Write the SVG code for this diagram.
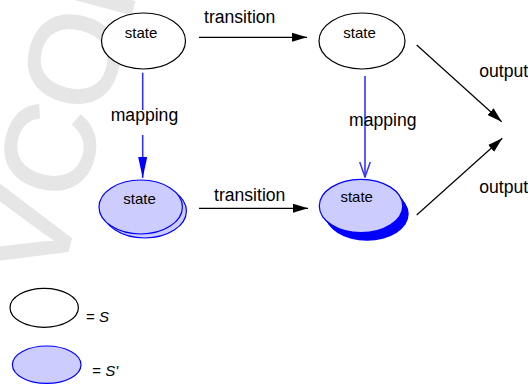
<svg xmlns="http://www.w3.org/2000/svg" width="528" height="384" viewBox="0 0 528 384">
<defs>
<style>
.lbl{font-family:"Liberation Sans",Arial,sans-serif;font-size:17.6px;fill:#000}
.st{font-family:"Liberation Sans",Arial,sans-serif;font-size:15px;fill:#000;text-anchor:middle}
.leg{font-family:"Liberation Sans",Arial,sans-serif;font-size:15px;fill:#000}
.s{fill:#fff;stroke:#000;stroke-width:1.2}
.sp{fill:#ccccff;stroke:#0000ff;stroke-width:1.2}
.blk{stroke:#000;stroke-width:1.2;fill:none}
.blu{stroke:#3333ff;stroke-width:1.6;fill:none}
.wm{font-family:"Liberation Sans",Arial,sans-serif;font-size:125px;fill:#e6e6e6;stroke:#e6e6e6;stroke-width:3}
</style>
<marker id="ab" viewBox="0 0 15 10" refX="15" refY="5" markerWidth="15" markerHeight="10" markerUnits="userSpaceOnUse" orient="auto"><path d="M0,0.5 L15,5 L0,9.5 z" fill="#000"/></marker>
<marker id="abf" viewBox="0 0 21 9" refX="21" refY="4.5" markerWidth="21" markerHeight="9" markerUnits="userSpaceOnUse" orient="auto"><path d="M0,0 L21,4.5 L0,9 z" fill="#0000ff"/></marker>
<marker id="abo" viewBox="0 0 16 12" refX="15" refY="6" markerWidth="16" markerHeight="12" markerUnits="userSpaceOnUse" orient="auto"><path d="M0,0.7 L15,6 L0,11.3" fill="none" stroke="#3333ff" stroke-width="1.5"/></marker>
</defs>
<rect width="528" height="384" fill="#fff"/>
<g id="watermark"><text class="wm" transform="translate(58,285) rotate(-75)">VCOP</text></g>
<g id="connectors">
<line class="blk" x1="199" y1="37.3" x2="307" y2="37.3" marker-end="url(#ab)"/>
<line class="blk" x1="199" y1="208.3" x2="308" y2="208.3" marker-end="url(#ab)"/>
<line class="blk" x1="416.7" y1="45" x2="501.7" y2="121.7" marker-end="url(#ab)"/>
<line class="blk" x1="416.7" y1="215" x2="502.3" y2="138.3" marker-end="url(#ab)"/>
<line class="blu" x1="142.7" y1="72.7" x2="142.7" y2="110"/>
<line class="blu" x1="142.7" y1="135" x2="142.7" y2="178" marker-end="url(#abf)"/>
<line class="blu" x1="365" y1="76" x2="365" y2="177" marker-end="url(#abo)"/>
<text class="lbl" x="204" y="23">transition</text>
<text class="lbl" x="214" y="201">transition</text>
<text class="lbl" x="110.7" y="121">mapping</text>
<text class="lbl" x="349" y="126">mapping</text>
<text class="lbl" x="479.3" y="76.7">output</text>
<text class="lbl" x="479.3" y="193.3">output</text>
</g>
<g id="s1"><ellipse class="s" cx="143.5" cy="41" rx="42" ry="28"/><text class="st" x="141" y="38">state</text></g>
<g id="s2"><ellipse class="s" cx="362" cy="41" rx="43" ry="28"/><text class="st" x="359.5" y="38">state</text></g>
<g id="sp1"><ellipse class="sp" cx="144.7" cy="211" rx="41.7" ry="27"/><ellipse class="sp" cx="140.7" cy="207" rx="41.7" ry="27"/><text class="st" x="139.5" y="204">state</text></g>
<g id="sp2">
<g fill="#0000ff"><ellipse cx="362" cy="207.3" rx="41.7" ry="26.7"/><ellipse cx="363" cy="208.6" rx="41.7" ry="26.7"/><ellipse cx="364" cy="210" rx="41.7" ry="26.7"/><ellipse cx="365" cy="211.3" rx="41.7" ry="26.7"/><ellipse cx="366" cy="212.6" rx="41.7" ry="26.7"/><ellipse cx="367" cy="214" rx="41.7" ry="26.7"/></g>
<ellipse class="sp" cx="361" cy="206" rx="41.7" ry="26.7"/><text class="st" x="356.7" y="201.7">state</text></g>
<g id="legend-s"><ellipse class="s" cx="44.2" cy="307.8" rx="34.2" ry="19.5"/><text class="leg" x="86" y="322">= <tspan font-style="italic">S</tspan></text></g>
<g id="legend-sp"><ellipse class="sp" cx="46.7" cy="364.7" rx="34.3" ry="18.7"/><text class="leg" x="92.3" y="376">= <tspan font-style="italic">S'</tspan></text></g>
</svg>
